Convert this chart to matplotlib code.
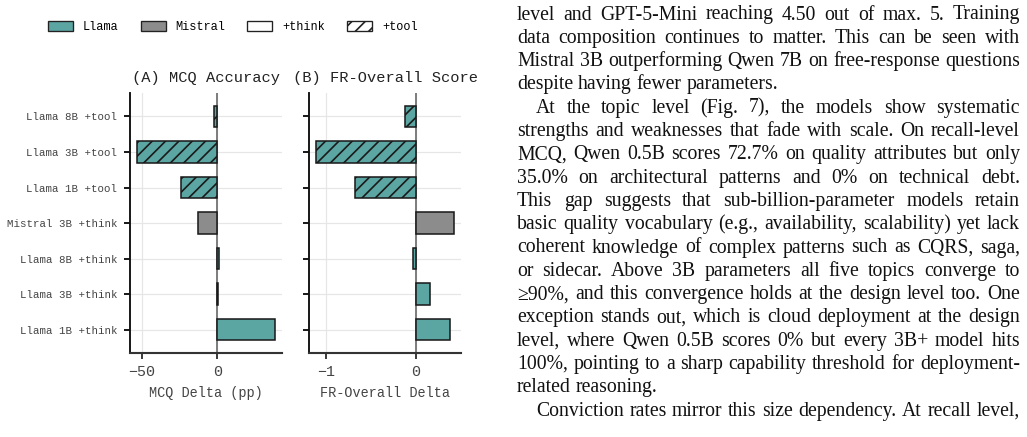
import matplotlib
matplotlib.use('Agg')
import matplotlib.pyplot as plt
from matplotlib.patches import Patch

W, H, DPI = 1027, 437, 80

# bar chart data (bottom -> top)
models = ['Llama 1B +think', 'Llama 3B +think', 'Llama 8B +think', 'Mistral 3B +think',
          'Llama 1B +tool', 'Llama 3B +tool', 'Llama 8B +tool']
family = ['Llama', 'Llama', 'Llama', 'Mistral', 'Llama', 'Llama', 'Llama']
mode = ['think', 'think', 'think', 'think', 'tool', 'tool', 'tool']
mcq_delta = [38.5, 0.3, 1.3, -13.0, -24.0, -53.3, -2.5]
fr_delta = [0.38, 0.155, -0.03, 0.425, -0.68, -1.11, -0.12]

colors = {'Llama': '#5ba5a3', 'Mistral': '#8c8c8c'}

# paper text on the right: (line, justified, indented)
body = [
    ("level and GPT-5-Mini reaching 4.50 out of max. 5. Training", True, False),
    ("data composition continues to matter. This can be seen with", True, False),
    ("Mistral 3B outperforming Qwen 7B on free-response questions", True, False),
    ("despite having fewer parameters.", False, False),
    ("At the topic level (Fig. 7), the models show systematic", True, True),
    ("strengths and weaknesses that fade with scale. On recall-level", True, False),
    ("MCQ, Qwen 0.5B scores 72.7% on quality attributes but only", True, False),
    ("35.0% on architectural patterns and 0% on technical debt.", True, False),
    ("This gap suggests that sub-billion-parameter models retain", True, False),
    ("basic quality vocabulary (e.g., availability, scalability) yet lack", True, False),
    ("coherent knowledge of complex patterns such as CQRS, saga,", True, False),
    ("or sidecar. Above 3B parameters all five topics converge to", True, False),
    ("\u226590%, and this convergence holds at the design level too. One", True, False),
    ("exception stands out, which is cloud deployment at the design", True, False),
    ("level, where Qwen 0.5B scores 0% but every 3B+ model hits", True, False),
    ("100%, pointing to a sharp capability threshold for deployment-", True, False),
    ("related reasoning.", False, False),
    ("Conviction rates mirror this size dependency. At recall level,", True, True),
]

mono = ['Liberation Mono', 'DejaVu Sans Mono']
serif = ['Liberation Serif', 'DejaVu Serif']

plt.rcParams['hatch.linewidth'] = 1.5

fig = plt.figure(figsize=(W / DPI, H / DPI), dpi=DPI)


def fx(px):
    return px / W


def fy(py):
    return 1 - py / H


def panel(ax, vals, title, xlabel, xlim, xticks, show_labels):
    ax.set_xlim(*xlim)
    ax.set_ylim(-0.65, 6.66)
    ax.axvline(0, color='#7f7f7f', lw=1.8, zorder=2)
    bars = ax.barh(range(len(vals)), vals, height=0.6,
                   color=[colors[f] for f in family],
                   edgecolor='#1a1a1a', linewidth=1.4, zorder=3)
    for b, m in zip(bars, mode):
        if m == 'tool':
            b.set_hatch('//')
    ax.set_xticks(xticks)
    ax.set_yticks(range(len(vals)))
    ax.set_yticklabels(models if show_labels else [])
    ax.grid(True, color='#e6e6e6', lw=1.1, zorder=0)
    ax.set_axisbelow(True)
    for s in ['top', 'right']:
        ax.spines[s].set_visible(False)
    ax.spines['left'].set_color('#111111')
    ax.spines['left'].set_linewidth(1.7)
    ax.spines['bottom'].set_color('#333333')
    ax.spines['bottom'].set_linewidth(1.9)
    ax.tick_params(axis='y', length=5.5, width=1.7, pad=6, labelsize=9.7,
                   labelcolor='#444444', color='#111111')
    ax.tick_params(axis='x', length=5.5, width=1.7, pad=5.5, labelsize=13.5,
                   labelcolor='#444444', color='#333333')
    for t in ax.get_yticklabels() + ax.get_xticklabels():
        t.set_fontfamily(mono)
    ax.set_title(title, fontsize=13.9, family=mono, color='#222222', pad=9.5)
    ax.set_xlabel(xlabel, fontsize=12.2, family=mono, color='#444444', labelpad=6)


ax1 = fig.add_axes([fx(130), fy(352.7), fx(152), (352.7 - 93) / H])
ax2 = fig.add_axes([fx(309.3), fy(352.7), fx(151.7), (352.7 - 93) / H])
panel(ax1, mcq_delta, '(A) MCQ Accuracy', 'MCQ Delta (pp)', (-58, 43), [-50, 0], True)
panel(ax2, fr_delta, '(B) FR-Overall Score', 'FR-Overall Delta', (-1.186, 0.505), [-1, 0], False)

handles = [Patch(facecolor=colors['Llama'], edgecolor='#222222', lw=1.2, label='Llama'),
           Patch(facecolor=colors['Mistral'], edgecolor='#222222', lw=1.2, label='Mistral'),
           Patch(facecolor='white', edgecolor='#222222', lw=1.2, label='+think'),
           Patch(facecolor='white', edgecolor='#222222', lw=1.2, hatch='//', label='+tool')]
fig.legend(handles=handles, loc='center left', bbox_to_anchor=(fx(48), fy(27)),
           ncol=4, frameon=False, borderpad=0, borderaxespad=0,
           handlelength=2.1, handleheight=0.85, handletextpad=0.84, columnspacing=1.85,
           prop={'family': mono, 'size': 10.7})

# justified text column
renderer = fig.canvas.get_renderer()
left, right, base0, step = 517, 1020, 19.5, 23.3
indent = 19
fs = 17.8
sp = fig.text(0, 0, 'a a', family=serif, fontsize=fs)
aa = fig.text(0, 0, 'aa', family=serif, fontsize=fs)
sw = sp.get_window_extent(renderer).width - aa.get_window_extent(renderer).width
sp.remove()
aa.remove()
for i, (line, just, ind) in enumerate(body):
    y = fy(base0 + i * step)
    x0 = left + (indent if ind else 0)
    words = line.split(' ')
    texts = [fig.text(0, y, w, family=serif, fontsize=fs, color='#111111',
                      ha='left', va='baseline') for w in words]
    widths = [t.get_window_extent(renderer).width for t in texts]
    if just and len(words) > 1:
        gap = (right - x0 - sum(widths)) / (len(words) - 1)
    else:
        gap = sw
    x = x0
    for t, w in zip(texts, widths):
        t.set_x(fx(x))
        x += w + gap

fig.savefig('out.png', dpi=DPI)
